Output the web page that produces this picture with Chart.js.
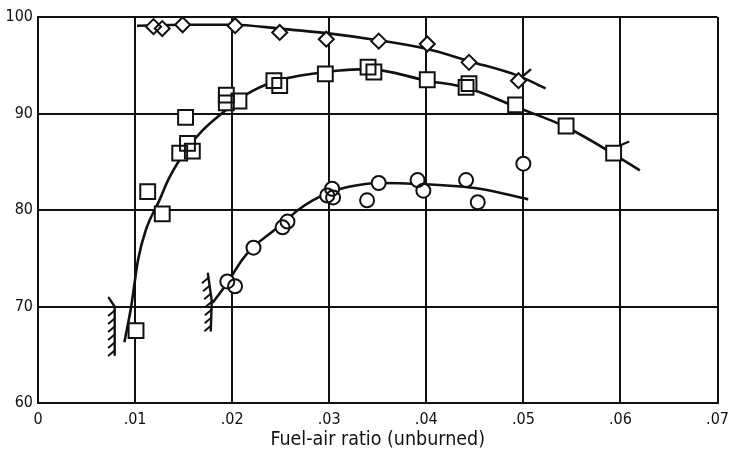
<!DOCTYPE html>
<html>
<head>
<meta charset="utf-8">
<script src="https://cdn.jsdelivr.net/npm/chart.js@4"></script>
<style>
  html, body { margin: 0; padding: 0; background: #fff; }
  #wrap { width: 730px; height: 455px; }
</style>
</head>
<body>
<div id="wrap"><canvas id="c" width="730" height="455"></canvas></div>
<script>
// Axis ticks
const xTicks = [0, 0.01, 0.02, 0.03, 0.04, 0.05, 0.06, 0.07];
const xTickLabels = ['0', '.01', '.02', '.03', '.04', '.05', '.06', '.07'];
const yTicks = [60, 70, 80, 90, 100];
const yTickLabels = ['60', '70', '80', '90', '100'];

// Diamond series: measured points and faired curve
const diamondX = [0.0119, 0.0128, 0.0149, 0.0203, 0.0249, 0.0297, 0.0351, 0.0401, 0.0444, 0.0495];
const diamondY = [99.0, 98.8, 99.2, 99.1, 98.4, 97.7, 97.5, 97.2, 95.3, 93.4];
const diamondCurveX = [0.0102, 0.0150, 0.0200, 0.0249, 0.0299, 0.0350, 0.0400, 0.0445, 0.0495, 0.0523];
const diamondCurveY = [99.1, 99.2, 99.2, 98.8, 98.3, 97.6, 96.7, 95.4, 93.9, 92.6];
const diamondFlagX = [0.0494, 0.0508];
const diamondFlagY = [93.4, 94.6];

// Square series
const squareX = [0.0101, 0.0113, 0.0128, 0.0146, 0.0152, 0.0154, 0.0159, 0.0194, 0.0194, 0.0207,
                 0.0243, 0.0249, 0.0296, 0.0340, 0.0346, 0.0401, 0.0441, 0.0444, 0.0492, 0.0544, 0.0593];
const squareY = [67.5, 81.9, 79.6, 85.9, 89.6, 86.9, 86.1, 91.9, 91.1, 91.3,
                 93.4, 92.9, 94.1, 94.8, 94.3, 93.5, 92.7, 93.1, 90.9, 88.7, 85.9];
const squareCurveX = [0.0089, 0.0096, 0.0103, 0.0111, 0.0125, 0.0135, 0.0154, 0.0170, 0.0194, 0.0210,
                      0.0243, 0.0296, 0.0340, 0.0401, 0.0444, 0.0492, 0.0544, 0.0593, 0.0620];
const squareCurveY = [66.3, 70.0, 74.8, 77.9, 81.0, 83.3, 86.4, 88.3, 90.4, 91.7,
                      93.3, 94.3, 94.6, 93.4, 92.6, 90.7, 88.6, 85.8, 84.1];
const squareFlagX = [0.0600, 0.0609];
const squareFlagY = [86.7, 87.1];

// Circle series
const circleX = [0.0195, 0.0203, 0.0222, 0.0252, 0.0257, 0.0298, 0.0303, 0.0304, 0.0339, 0.0351,
                 0.0391, 0.0397, 0.0441, 0.0453, 0.0500];
const circleY = [72.6, 72.1, 76.1, 78.2, 78.8, 81.5, 82.2, 81.3, 81.0, 82.8,
                 83.1, 82.0, 83.1, 80.8, 84.8];
const circleCurveX = [0.0180, 0.0196, 0.0210, 0.0222, 0.0237, 0.0252, 0.0268, 0.0283, 0.0300, 0.0320,
                      0.0351, 0.0392, 0.0455, 0.0505];
const circleCurveY = [70.4, 72.6, 74.8, 76.2, 77.4, 78.6, 80.0, 81.0, 81.8, 82.4,
                      82.8, 82.7, 82.2, 81.1];

// Hatched limit walls: outline points; hatching starts at the given vertex
const wall1X = [0.0073, 0.0079, 0.0079];
const wall1Y = [70.9, 70.0, 65.0];
const wall2X = [0.0175, 0.0179, 0.0178];
const wall2Y = [73.4, 70.6, 67.5];
const walls = [
  { xs: wall1X, ys: wall1Y, hatchFrom: 1 },
  { xs: wall2X, ys: wall2Y, hatchFrom: 0 }
];

const INK = '#111';
const FONT = "'DejaVu Sans Condensed', 'DejaVu Sans', sans-serif";

const pts = (xs, ys) => xs.map((x, i) => ({ x, y: ys[i] }));

function curve(xs, ys) {
  return {
    type: 'line', data: pts(xs, ys), borderColor: INK, borderWidth: 2.6,
    pointRadius: 0, cubicInterpolationMode: 'monotone', fill: false, order: 3
  };
}
function segment(xs, ys) {
  return {
    type: 'line', data: pts(xs, ys), borderColor: INK, borderWidth: 2.2,
    pointRadius: 0, fill: false, order: 3
  };
}
// White backing (hides curves under markers)
function markerFill(xs, ys, style, r) {
  return {
    type: 'scatter', data: pts(xs, ys), pointStyle: style, pointRadius: r,
    pointBackgroundColor: '#fff', pointBorderColor: '#fff', pointBorderWidth: 0, order: 2
  };
}
// Outline drawn on top so overlapping markers stay visible
function markerLine(xs, ys, style, r) {
  return {
    type: 'scatter', data: pts(xs, ys), pointStyle: style, pointRadius: r,
    pointBackgroundColor: 'rgba(0,0,0,0)', pointBorderColor: INK, pointBorderWidth: 2, order: 1
  };
}

// Draws the hatched wall symbols in data coordinates
const wallPlugin = {
  id: 'walls',
  afterDatasetsDraw(chart) {
    const { ctx, scales: { x, y } } = chart;
    ctx.save();
    ctx.strokeStyle = INK;
    ctx.lineCap = 'round';
    walls.forEach(w => {
      const p = w.xs.map((v, i) => [x.getPixelForValue(v), y.getPixelForValue(w.ys[i])]);
      ctx.lineWidth = 2.4;
      ctx.beginPath();
      ctx.moveTo(p[0][0], p[0][1]);
      for (let i = 1; i < p.length; i++) ctx.lineTo(p[i][0], p[i][1]);
      ctx.stroke();
      // short hatch strokes on the left side, every 8 px down the hatched run
      ctx.lineWidth = 2;
      let carry = 4;
      for (let i = w.hatchFrom; i < p.length - 1; i++) {
        const [ax, ay] = p[i], [bx, by] = p[i + 1];
        const len = by - ay;
        let t = carry;
        for (; t <= len; t += 8) {
          const f = t / len;
          const hx = ax + (bx - ax) * f, hy = ay + t;
          ctx.beginPath();
          ctx.moveTo(hx, hy);
          ctx.lineTo(hx - 6, hy + 5);
          ctx.stroke();
        }
        carry = t - len;
      }
    });
    ctx.restore();
  }
};

new Chart(document.getElementById('c'), {
  data: {
    datasets: [
      markerLine(diamondX, diamondY, 'rectRot', 7.5),
      markerLine(squareX, squareY, 'rect', 10.5),
      markerLine(circleX, circleY, 'circle', 7),
      markerFill(diamondX, diamondY, 'rectRot', 7.5),
      markerFill(squareX, squareY, 'rect', 10.5),
      markerFill(circleX, circleY, 'circle', 7),
      curve(diamondCurveX, diamondCurveY),
      curve(squareCurveX, squareCurveY),
      curve(circleCurveX, circleCurveY),
      segment(diamondFlagX, diamondFlagY),
      segment(squareFlagX, squareFlagY)
    ]
  },
  options: {
    responsive: false,
    animation: false,
    layout: { padding: { top: 17, right: 11, left: 0, bottom: 0 } },
    plugins: { legend: { display: false }, tooltip: { enabled: false } },
    scales: {
      x: {
        type: 'linear', min: 0, max: 0.07,
        afterBuildTicks: s => { s.ticks = xTicks.map(v => ({ value: v })); },
        afterFit: s => { s.height = 52; s.paddingLeft = 0; s.paddingRight = 0; },
        ticks: {
          callback: (v, i) => xTickLabels[i],
          color: INK, padding: 7, maxRotation: 0, autoSkip: false,
          font: { family: FONT, size: 16 }
        },
        grid: { color: INK, lineWidth: 2, drawTicks: false },
        border: { color: INK, width: 2 },
        title: {
          display: true, text: 'Fuel-air ratio (unburned)', color: INK,
          font: { family: FONT, size: 19.5 }, padding: { top: 0, bottom: 3 }
        }
      },
      y: {
        type: 'linear', min: 60, max: 100,
        afterBuildTicks: s => { s.ticks = yTicks.map(v => ({ value: v })); },
        afterFit: s => { s.width = 38; s.paddingTop = 0; s.paddingBottom = 0; },
        ticks: {
          callback: (v, i) => yTickLabels[i],
          color: INK, padding: 5, autoSkip: false,
          font: { family: FONT, size: 16 }
        },
        grid: { color: INK, lineWidth: 2, drawTicks: false },
        border: { color: INK, width: 2 }
      }
    }
  },
  plugins: [wallPlugin]
});
</script>
</body>
</html>
